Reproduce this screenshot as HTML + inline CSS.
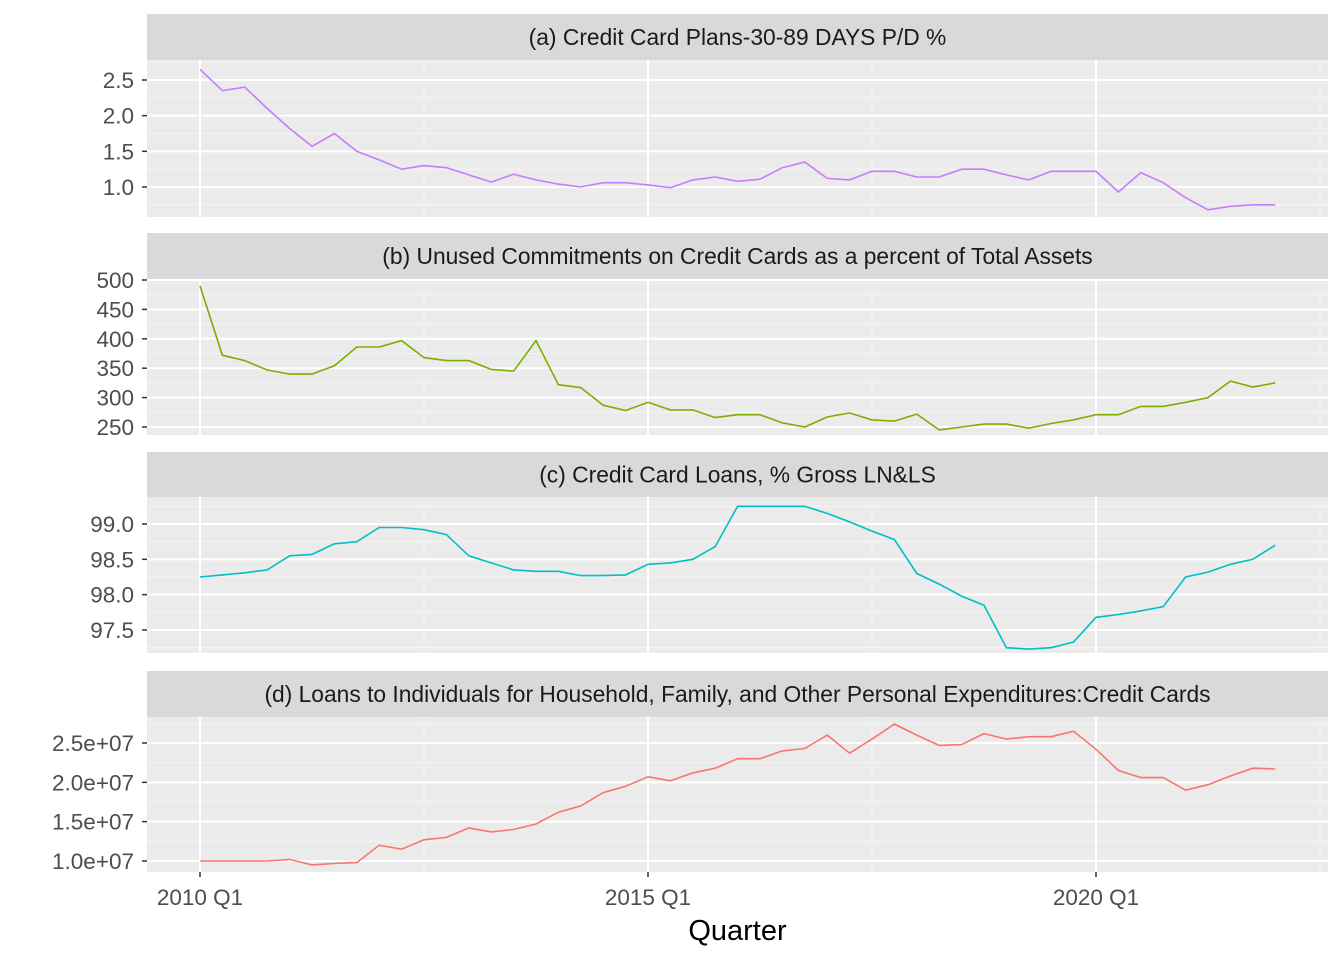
<!DOCTYPE html>
<html><head><meta charset="utf-8"><style>
body{margin:0;background:#fff}
svg{display:block;font-family:"Liberation Sans",sans-serif}
</style></head><body>
<svg id="chart" width="1344" height="960"></svg>
<script>
const quarterStart = 2010;
const xTickLabels = ["2010 Q1","2015 Q1","2020 Q1"];
const xTickIdx = [0,20,40];
const titleA = "(a) Credit Card Plans-30-89 DAYS P/D %";
const titleB = "(b) Unused Commitments on Credit Cards as a percent of Total Assets";
const titleC = "(c) Credit Card Loans, % Gross LN&LS";
const titleD = "(d) Loans to Individuals for Household, Family, and Other Personal Expenditures:Credit Cards";
const seriesA = [2.65,2.35,2.4,2.1,1.82,1.57,1.75,1.5,1.38,1.25,1.3,1.27,1.17,1.07,1.18,1.1,1.04,1.0,1.06,1.06,1.03,0.99,1.1,1.14,1.08,1.11,1.27,1.35,1.12,1.1,1.22,1.22,1.14,1.14,1.25,1.25,1.17,1.1,1.22,1.22,1.22,0.93,1.2,1.06,0.85,0.68,0.73,0.75,0.75];
const seriesB = [490,372,363,347,340,340,354,386,386,397,368,363,363,348,345,397,322,317,287,278,292,279,279,266,271,271,257,250,267,274,262,260,272,245,250,255,255,248,256,262,271,271,285,285,292,300,328,318,325];
const seriesC = [98.25,98.28,98.31,98.35,98.55,98.57,98.72,98.75,98.95,98.95,98.92,98.85,98.55,98.45,98.35,98.33,98.33,98.27,98.27,98.28,98.43,98.45,98.5,98.68,99.25,99.25,99.25,99.25,99.15,99.03,98.9,98.78,98.3,98.15,97.98,97.85,97.25,97.23,97.25,97.33,97.68,97.72,97.77,97.83,98.25,98.32,98.43,98.5,98.7];
const seriesD = [1.0,1.0,1.0,1.0,1.02,0.95,0.97,0.98,1.2,1.15,1.27,1.3,1.42,1.37,1.4,1.47,1.62,1.7,1.87,1.95,2.07,2.02,2.12,2.18,2.3,2.3,2.4,2.43,2.6,2.37,2.55,2.74,2.6,2.47,2.48,2.62,2.55,2.58,2.58,2.65,2.42,2.15,2.06,2.06,1.9,1.97,2.08,2.18,2.17];
const ticksA = [1.0,1.5,2.0,2.5];
const ticksB = [250,300,350,400,450,500];
const ticksC = [97.5,98.0,98.5,99.0];
const ticksD = [1.0,1.5,2.0,2.5];
const tickLabA = ["1.0","1.5","2.0","2.5"];
const tickLabB = ["250","300","350","400","450","500"];
const tickLabC = ["97.5","98.0","98.5","99.0"];
const tickLabD = ["1.0e+07","1.5e+07","2.0e+07","2.5e+07"];

const NS="http://www.w3.org/2000/svg";
const svg=document.getElementById('chart');
function mk(tag,attrs,parent){const e=document.createElementNS(NS,tag);for(const k in attrs)e.setAttribute(k,attrs[k]);(parent||svg).appendChild(e);return e;}
const X0=147,X1=1328;
function xs(i){return 200+22.4*i;}
const panels=[
 {t:titleA,s:seriesA,tk:ticksA,tl:tickLabA,top:14,py0:60,py1:217,v0:1.0,p0:187,v1:2.5,p1:80,c:"#C77CFF",n:"a"},
 {t:titleB,s:seriesB,tk:ticksB,tl:tickLabB,top:233,py0:279,py1:435,v0:250,p0:427,v1:500,p1:280,c:"#7CAE00",n:"b"},
 {t:titleC,s:seriesC,tk:ticksC,tl:tickLabC,top:452,py0:497,py1:653,v0:97.5,p0:630,v1:99.0,p1:524,c:"#00BFC4",n:"c"},
 {t:titleD,s:seriesD,tk:ticksD,tl:tickLabD,top:671,py0:717,py1:872,v0:1.0,p0:861,v1:2.5,p1:743,c:"#F8766D",n:"d"}
];
panels.forEach(p=>{
 const ys=v=>p.p0+(v-p.v0)*(p.p1-p.p0)/(p.v1-p.v0);
 const g=mk('g',{});
 
 
 const strip=mk('rect',{x:X0,y:p.top,width:X1-X0,height:p.py0-p.top,fill:"#D9D9D9"},g);
 
 
 const st=mk('text',{x:(X0+X1)/2,y:(p.top+p.py0)/2+8,'text-anchor':'middle','font-size':22.8,fill:'#1A1A1A'},g);
 st.textContent=p.t;
 
 
 mk('rect',{x:X0,y:p.py0,width:X1-X0,height:p.py1-p.py0,fill:"#EBEBEB"},g);
 for(let k=0;k<p.tk.length+1;k++){
   const step=p.tk[1]-p.tk[0];
   const v=p.tk[0]-step/2+k*step;const y=ys(v);
   if(y>p.py0&&y<p.py1) mk('line',{x1:X0,x2:X1,y1:y,y2:y,stroke:'#F5F5F5','stroke-width':1},g);
 }
 [10,30,50].forEach(i=>{const x=xs(i);if(x<X1)mk('line',{x1:x,x2:x,y1:p.py0,y2:p.py1,stroke:'#F5F5F5','stroke-width':1},g);});
 p.tk.forEach((v,k)=>{const y=ys(v);
  mk('line',{x1:X0,x2:X1,y1:y,y2:y,stroke:'#fff','stroke-width':2},g);
  mk('line',{x1:X0-5,x2:X0,y1:y,y2:y,stroke:'#333','stroke-width':1.5},g);
  const t=mk('text',{x:X0-13,y:y+8,'text-anchor':'end','font-size':22.5,fill:'#4D4D4D'},g);
  t.textContent=p.tl[k];
  
  
 });
 xTickIdx.forEach(i=>{const x=xs(i);mk('line',{x1:x,x2:x,y1:p.py0,y2:p.py1,stroke:'#fff','stroke-width':2},g);});
 const d=p.s.map((v,i)=>(i?'L':'M')+xs(i).toFixed(1)+','+ys(v).toFixed(1)).join('');
 const path=mk('path',{d:d,fill:'none',stroke:p.c,'stroke-width':1.6},g);
 
 
});
xTickIdx.forEach((i,k)=>{const x=xs(i);
 mk('line',{x1:x,x2:x,y1:872,y2:877,stroke:'#333','stroke-width':1.5});
 const t=mk('text',{x:x,y:905,'text-anchor':'middle','font-size':22.5,fill:'#4D4D4D'});
 t.textContent=xTickLabels[k];
 
 
});
const xt=mk('text',{x:(X0+X1)/2,y:940,'text-anchor':'middle','font-size':29,fill:'#000'});
xt.textContent="Quarter";


</script>
</body></html>
